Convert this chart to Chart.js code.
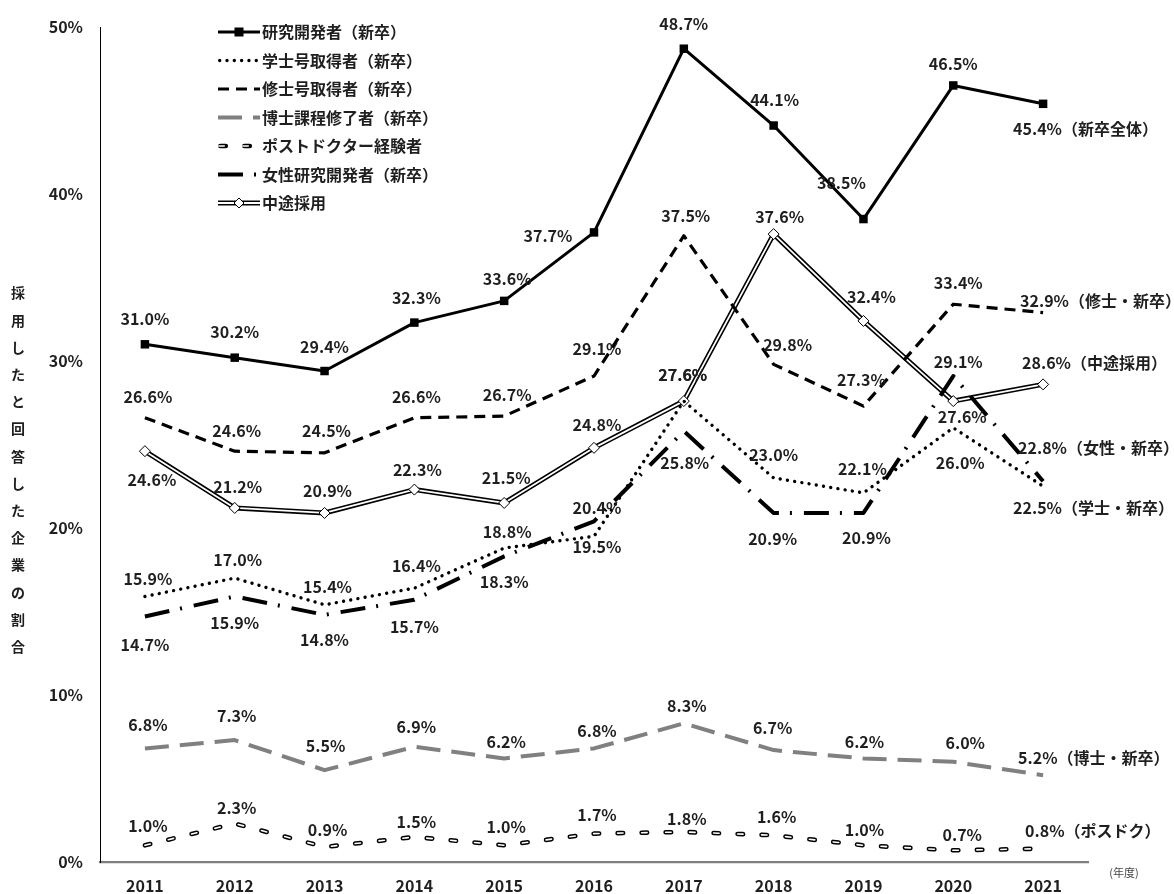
<!DOCTYPE html>
<html>
<head>
<meta charset="utf-8">
<script src="https://cdn.jsdelivr.net/npm/chart.js@4.4.0/dist/chart.umd.min.js"></script>
<style>
  html, body { margin: 0; padding: 0; background: #fff; }
  #wrap { width: 1174px; height: 894px; position: relative; }
</style>
</head>
<body>
<div id="wrap"><canvas id="chart"></canvas></div>
<script>
// data
const years = ['2011', '2012', '2013', '2014', '2015', '2016', '2017', '2018', '2019', '2020', '2021'];
const researchAll = [31.0, 30.2, 29.4, 32.3, 33.6, 37.7, 48.7, 44.1, 38.5, 46.5, 45.4];
const bachelor    = [15.9, 17.0, 15.4, 16.4, 18.8, 19.5, 27.6, 23.0, 22.1, 26.0, 22.5];
const master      = [26.6, 24.6, 24.5, 26.6, 26.7, 29.1, 37.5, 29.8, 27.3, 33.4, 32.9];
const doctor      = [6.8, 7.3, 5.5, 6.9, 6.2, 6.8, 8.3, 6.7, 6.2, 6.0, 5.2];
const postdoc     = [1.0, 2.3, 0.9, 1.5, 1.0, 1.7, 1.8, 1.6, 1.0, 0.7, 0.8];
const women       = [14.7, 15.9, 14.8, 15.7, 18.3, 20.4, 25.8, 20.9, 20.9, 29.1, 22.8];
const midCareer   = [24.6, 21.2, 20.9, 22.3, 21.5, 24.8, 27.6, 37.6, 32.4, 27.6, 28.6];
const yTicks = [0, 10, 20, 30, 40, 50];

const FONT = '"Noto Sans CJK JP", "Noto Sans", sans-serif';
const TXT = '#1f1f1f';

// label placement (offsets from the point; last one is left edge of the end label)
const place = {
    research: { dx: [0,0,0,2,3,-46,0,1,-22,0,-30], dy: [-25,-26,-24,-25,-22,4,-25,-26,-36,-22,25] },
    master:   { dx: [3,2,2,2,3,3,2,14,-2,5,-23],    dy: [-21,-20,-22,-21,-21,-27,-20,-19,-26,-21,-12] },
    mid:      { dx: [7,3,3,3,2,3,-1,6,8,9,-21],     dy: [29,-21,-22,-20,-25,-23,-26,-17,-24,16,-21] },
    bachelor: { dx: [3,3,3,2,3,3,-1,0,-1,7,-30],    dy: [-18,-18,-18,-22,-16,11,-26,-23,-24,35,22] },
    women:    { dx: [0,0,0,0,0,3,1,-1,3,5,-25],     dy: [28,26,25,27,26,-13,32,26,25,-14,-33] },
    doctor:   { dx: [3,2,1,2,2,3,3,-1,1,12,-25],    dy: [-24,-24,-24,-20,-17,-18,-17,-22,-17,-19,-17] },
    postdoc:  { dx: [3,2,3,2,2,3,3,3,1,9,-18],      dy: [-19,-16,-17,-15,-18,-19,-13,-18,-15,-15,-18] }
};

const datasets = [
    { label: '研究開発者（新卒）', data: researchAll, borderColor: '#000', backgroundColor: '#000',
      borderWidth: 3, pointStyle: 'rect', pointRadius: 6, pointBackgroundColor: '#000', pointBorderWidth: 0,
      endText: '（新卒全体）', place: place.research, order: 1 },
    { label: '学士号取得者（新卒）', data: bachelor, borderColor: '#000', borderWidth: 3.4,
      borderDash: [0.01, 7.3], borderCapStyle: 'round', pointRadius: 0,
      endText: '（学士・新卒）', place: place.bachelor, order: 1 },
    { label: '修士号取得者（新卒）', data: master, borderColor: '#000', borderWidth: 3.2,
      borderDash: [11, 7], pointRadius: 0,
      endText: '（修士・新卒）', place: place.master, order: 1 },
    { label: '博士課程修了者（新卒）', data: doctor, borderColor: '#808080', borderWidth: 4,
      borderDash: [24, 11], pointRadius: 0,
      endText: '（博士・新卒）', place: place.doctor, order: 1 },
    { label: 'ポストドクター経験者', data: postdoc, borderColor: '#fff', borderWidth: 1.6,
      borderDash: [5.5, 18.5], borderCapStyle: 'round', pointRadius: 0, outline: true,
      endText: '（ポスドク）', place: place.postdoc, order: 1 },
    { label: '女性研究開発者（新卒）', data: women, borderColor: '#000', borderWidth: 4,
      borderDash: [25, 11, 2, 12], pointRadius: 0,
      endText: '（女性・新卒）', place: place.women, order: 1 },
    { label: '中途採用', data: midCareer, borderColor: '#fff', borderWidth: 1.8,
      pointStyle: 'rectRot', pointRadius: 5.5, pointBackgroundColor: '#fff',
      pointBorderColor: '#000', pointBorderWidth: 1, outline: true,
      endText: '（中途採用）', place: place.mid, order: 1 },
    // black under-strokes for the two double-line series
    { label: '_pd', data: postdoc, borderColor: '#000', borderWidth: 4.6,
      borderDash: [5.5, 18.5], borderCapStyle: 'round', pointRadius: 0, helper: true, order: 2 },
    { label: '_mc', data: midCareer, borderColor: '#000', borderWidth: 5,
      pointRadius: 0, helper: true, order: 2 }
];
datasets.forEach(d => { d.tension = 0; d.fill = false; d.borderJoinStyle = 'round'; });

// data labels
const labelPlugin = {
    id: 'labels',
    afterDatasetsDraw(chart) {
        const ctx = chart.ctx;
        ctx.save();
        ctx.font = 'bold 16px ' + FONT;
        ctx.fillStyle = TXT;
        ctx.textBaseline = 'middle';
        chart.data.datasets.forEach((ds, di) => {
            if (ds.helper) return;
            const meta = chart.getDatasetMeta(di);
            const last = ds.data.length - 1;
            meta.data.forEach((pt, i) => {
                const txt = ds.data[i].toFixed(1) + '%';
                if (i === last) {
                    ctx.textAlign = 'left';
                    ctx.fillText(txt + ds.endText, pt.x + ds.place.dx[i], pt.y + ds.place.dy[i]);
                } else {
                    ctx.textAlign = 'center';
                    ctx.fillText(txt, pt.x + ds.place.dx[i], pt.y + ds.place.dy[i]);
                }
            });
        });
        ctx.restore();
    }
};

// legend drawn inside the plot, plus axis title and unit
const decoPlugin = {
    id: 'deco',
    afterDraw(chart) {
        const ctx = chart.ctx;
        ctx.save();
        const items = chart.data.datasets.filter(d => !d.helper);
        items.forEach((ds, k) => {
            const y = 32 + k * 28.5;
            const x0 = 218, x1 = 260;
            const stroke = (col, w, dash, cap) => {
                ctx.beginPath();
                ctx.strokeStyle = col;
                ctx.lineWidth = w;
                ctx.setLineDash(dash || []);
                ctx.lineCap = cap || 'butt';
                ctx.moveTo(x0 + (cap === 'round' ? w / 2 : 0), y);
                ctx.lineTo(x1, y);
                ctx.stroke();
            };
            if (ds.outline) {
                const w = ds.label === '中途採用' ? 5 : 4.6;
                stroke('#000', w, ds.borderDash, ds.borderCapStyle);
                stroke('#fff', ds.borderWidth, ds.borderDash, ds.borderCapStyle);
            } else {
                stroke(ds.borderColor, ds.borderWidth, ds.borderDash, ds.borderCapStyle);
            }
            ctx.setLineDash([]);
            const mx = (x0 + x1) / 2;
            if (ds.pointStyle === 'rect') {
                ctx.fillStyle = '#000';
                ctx.fillRect(mx - 4.5, y - 4.5, 9, 9);
            } else if (ds.pointStyle === 'rectRot') {
                ctx.beginPath();
                ctx.moveTo(mx - 5, y); ctx.lineTo(mx, y - 5); ctx.lineTo(mx + 5, y); ctx.lineTo(mx, y + 5);
                ctx.closePath();
                ctx.fillStyle = '#fff'; ctx.fill();
                ctx.lineWidth = 1; ctx.strokeStyle = '#000'; ctx.stroke();
            }
            ctx.font = 'bold 16px ' + FONT;
            ctx.fillStyle = TXT;
            ctx.textAlign = 'left';
            ctx.textBaseline = 'middle';
            ctx.fillText(ds.label, 262, y);
        });

        // vertical axis title, one character per line
        const title = '採用したと回答した企業の割合';
        ctx.font = 'bold 14px ' + FONT;
        ctx.textAlign = 'center';
        [...title].forEach((ch, i) => ctx.fillText(ch, 18, 293 + i * 27.2));

        ctx.font = '11px ' + FONT;
        ctx.fillStyle = '#444';
        ctx.fillText('(年度)', 1124, 873);
        ctx.restore();
    }
};

new Chart(document.getElementById('chart'), {
    type: 'line',
    data: { labels: years, datasets: datasets },
    options: {
        responsive: true,
        maintainAspectRatio: false,
        animation: false,
        layout: { padding: { top: 27, right: 86, left: 0, bottom: 0 } },
        plugins: { legend: { display: false }, tooltip: { enabled: false } },
        scales: {
            x: {
                offset: true,
                grid: { display: false, drawTicks: false },
                border: { display: true, color: '#7f7f7f', width: 2.2 },
                ticks: { color: TXT, padding: 14, font: { size: 16, weight: 'bold', family: FONT } },
                afterFit(s) { s.height = 32; }
            },
            y: {
                min: 0, max: 50,
                afterBuildTicks(s) { s.ticks = yTicks.map(v => ({ value: v })); },
                grid: { display: false, drawTicks: false },
                border: { display: true, color: '#000', width: 1 },
                ticks: { color: TXT, padding: 17, font: { size: 16, weight: 'bold', family: FONT },
                         callback: v => v + '%' },
                afterFit(s) { s.width = 100; }
            }
        }
    },
    plugins: [labelPlugin, decoPlugin]
});
</script>
</body>
</html>
